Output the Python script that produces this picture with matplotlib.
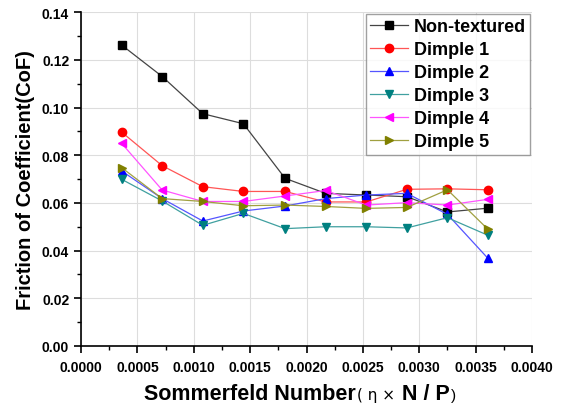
import matplotlib.pyplot as plt
from matplotlib.offsetbox import TextArea, HPacker, AnnotationBbox
from matplotlib.ticker import MultipleLocator, FormatStrFormatter

plt.rcParams['font.family'] = ['Liberation Sans', 'DejaVu Sans']

# Sommerfeld numbers
sommerfeld = [0.00036, 0.00072, 0.00108, 0.00144, 0.00181,
              0.00217, 0.00253, 0.00289, 0.00325, 0.00361]

non_textured = [0.1262, 0.1130, 0.0974, 0.0932, 0.0703, 0.0640, 0.0633, 0.0626, 0.0562, 0.0578]
dimple1 = [0.0897, 0.0756, 0.0668, 0.0648, 0.0648, 0.0604, 0.0604, 0.0657, 0.0659, 0.0655]
dimple2 = [0.0734, 0.0618, 0.0524, 0.0566, 0.0587, 0.0618, 0.0633, 0.0640, 0.0552, 0.0367]
dimple3 = [0.0699, 0.0608, 0.0506, 0.0556, 0.0492, 0.0500, 0.0500, 0.0495, 0.0538, 0.0464]
dimple4 = [0.0850, 0.0654, 0.0606, 0.0606, 0.0629, 0.0652, 0.0591, 0.0601, 0.0591, 0.0615]
dimple5 = [0.0748, 0.0618, 0.0606, 0.0588, 0.0591, 0.0585, 0.0577, 0.0581, 0.0655, 0.0489]

series = [
    ('Non-textured', non_textured, 'black', '#444444', 's'),
    ('Dimple 1', dimple1, 'red', '#ff5555', 'o'),
    ('Dimple 2', dimple2, 'blue', '#5555ff', '^'),
    ('Dimple 3', dimple3, '#008080', '#40a0a0', 'v'),
    ('Dimple 4', dimple4, 'magenta', '#ff55ff', '<'),
    ('Dimple 5', dimple5, '#808000', '#a0a040', '>'),
]

fig = plt.figure(figsize=(5.65, 4.10), dpi=100)
ax = fig.add_axes([0.1434, 0.1537, 0.7982, 0.8143])

for name, vals, col, lcol, mk in series:
    ax.plot(sommerfeld, vals, color=lcol, lw=0.9, marker=mk, markersize=6,
            markerfacecolor=col, markeredgecolor=col, label=name)

ax.set_xlim(0, 0.004)
ax.set_ylim(0, 0.14)
ax.xaxis.set_major_locator(MultipleLocator(0.0005))
ax.xaxis.set_minor_locator(MultipleLocator(0.00025))
ax.yaxis.set_major_locator(MultipleLocator(0.02))
ax.yaxis.set_minor_locator(MultipleLocator(0.01))
ax.xaxis.set_major_formatter(FormatStrFormatter('%.4f'))
ax.yaxis.set_major_formatter(FormatStrFormatter('%.2f'))
ax.grid(True, color='#dddddd', lw=0.8)
ax.set_axisbelow(True)
for s in ['top', 'right']:
    ax.spines[s].set_visible(False)
for s in ['left', 'bottom']:
    ax.spines[s].set_linewidth(1.2)
ax.tick_params(which='major', direction='out', length=5, width=1.2, labelsize=10)
ax.tick_params(axis='x', which='major', pad=5)
ax.tick_params(which='minor', direction='out', length=3, width=1.0)
for lab in ax.get_xticklabels() + ax.get_yticklabels():
    lab.set_fontweight('bold')

ax.set_ylabel('Friction of Coefficient(CoF)', fontsize=14.5, fontweight='bold', labelpad=5)

# x label with mixed sizes
parts = [
    TextArea('Sommerfeld Number', textprops=dict(fontsize=15.5, fontweight='bold')),
    TextArea('( η × ', textprops=dict(fontsize=11, family=['DejaVu Sans'])),
    TextArea('N / P', textprops=dict(fontsize=15.5, fontweight='bold')),
    TextArea(')', textprops=dict(fontsize=11)),
]
box = HPacker(children=parts, align='baseline', pad=0, sep=1)
ab = AnnotationBbox(box, (300 / 565, 15 / 410), xycoords='figure fraction',
                    frameon=False, box_alignment=(0.5, 0.5))
fig.add_artist(ab)

leg = ax.legend(loc='upper right', frameon=True, fancybox=False,
                borderaxespad=0.1, borderpad=0.25, handlelength=2.1,
                handletextpad=0.3, labelspacing=0.33,
                prop=dict(weight='bold', size=13))
leg.get_frame().set_edgecolor('#888888')
leg.get_frame().set_linewidth(1.0)

fig.savefig('out.png', dpi=100)
